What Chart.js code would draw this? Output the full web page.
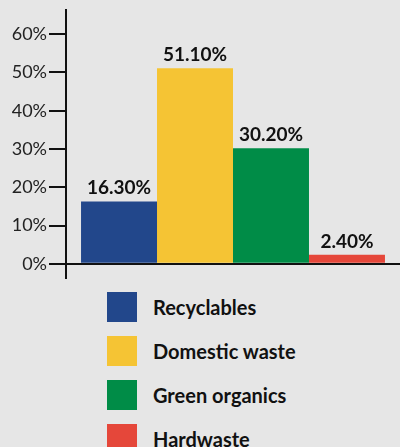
<!DOCTYPE html>
<html lang="en">
<head>
<meta charset="UTF-8">
<title>Waste composition</title>
<script src="https://cdn.jsdelivr.net/npm/chart.js"></script>
<style>
    body {
        margin: 0;
        background-color: #e6e6e6;
        font-family: Lato, sans-serif;
    }
    #wrap {
        position: relative;
        width: 400px;
        height: 290px;
    }
    #legenda {
        position: absolute;
        left: 107px;
        top: 292px;
    }
    .item {
        display: flex;
        align-items: center;
        height: 30px;
        margin-bottom: 14px;
        font-weight: bold;
        font-size: 20px;
        color: #111;
    }
    .caixa {
        width: 30px;
        height: 30px;
        margin-right: 16px;
    }
</style>
</head>
<body>

<div id="wrap"><canvas id="grafico"></canvas></div>
<div id="legenda"></div>

<script>
const categorias = ['Recyclables', 'Domestic waste', 'Green organics', 'Hardwaste'];
const valores = [16.3, 51.1, 30.2, 2.4];
const cores = ['#22478b', '#f5c434', '#008c47', '#e5473a'];
const ticksY = [0, 10, 20, 30, 40, 50, 60];

// one dataset per category so the bars sit side by side
const datasets = categorias.map((nome, i) => ({
    label: nome,
    data: [valores[i]],
    backgroundColor: cores[i],
    borderWidth: 0,
    barPercentage: 1,
    categoryPercentage: 0.91
}));

const rotulos = {
    id: 'rotulos',
    afterDatasetsDraw(chart) {
        const ctx = chart.ctx;
        ctx.save();
        ctx.font = 'bold 19px Lato';
        ctx.fillStyle = '#111';
        ctx.textAlign = 'center';
        ctx.textBaseline = 'alphabetic';
        chart.data.datasets.forEach((ds, i) => {
            const bar = chart.getDatasetMeta(i).data[0];
            ctx.fillText(ds.data[0].toFixed(2) + '%', bar.x, bar.y - 7);
        });
        ctx.restore();
    }
};

new Chart(document.getElementById('grafico'), {
    type: 'bar',
    data: {
        labels: [''],
        datasets: datasets
    },
    options: {
        responsive: true,
        maintainAspectRatio: false,
        animation: false,
        layout: {
            padding: { top: 10, bottom: 12, right: 0, left: 0 }
        },
        plugins: {
            legend: { display: false },
            tooltip: { enabled: false }
        },
        scales: {
            x: { display: false },
            y: {
                min: -3.7,
                max: 66.3,
                bounds: 'data',
                afterBuildTicks: scale => {
                    scale.ticks = ticksY.map(v => ({ value: v }));
                },
                afterFit: scale => {
                    scale.width = 66;
                    scale.paddingTop = 0;
                    scale.paddingBottom = 0;
                },
                border: { color: '#111', width: 2 },
                grid: {
                    color: c => (c.tick && c.tick.value === 0) ? '#111' : 'rgba(0,0,0,0)',
                    tickColor: '#111',
                    tickLength: 17,
                    lineWidth: 2
                },
                ticks: {
                    padding: 2,
                    color: '#222',
                    font: { family: 'Lato', size: 18 },
                    callback: v => v + '%'
                }
            }
        }
    },
    plugins: [rotulos]
});

const legenda = document.getElementById('legenda');
categorias.forEach((nome, i) => {
    legenda.innerHTML += `<div class="item"><div class="caixa" style="background:${cores[i]}"></div>${nome}</div>`;
});
</script>

</body>
</html>
